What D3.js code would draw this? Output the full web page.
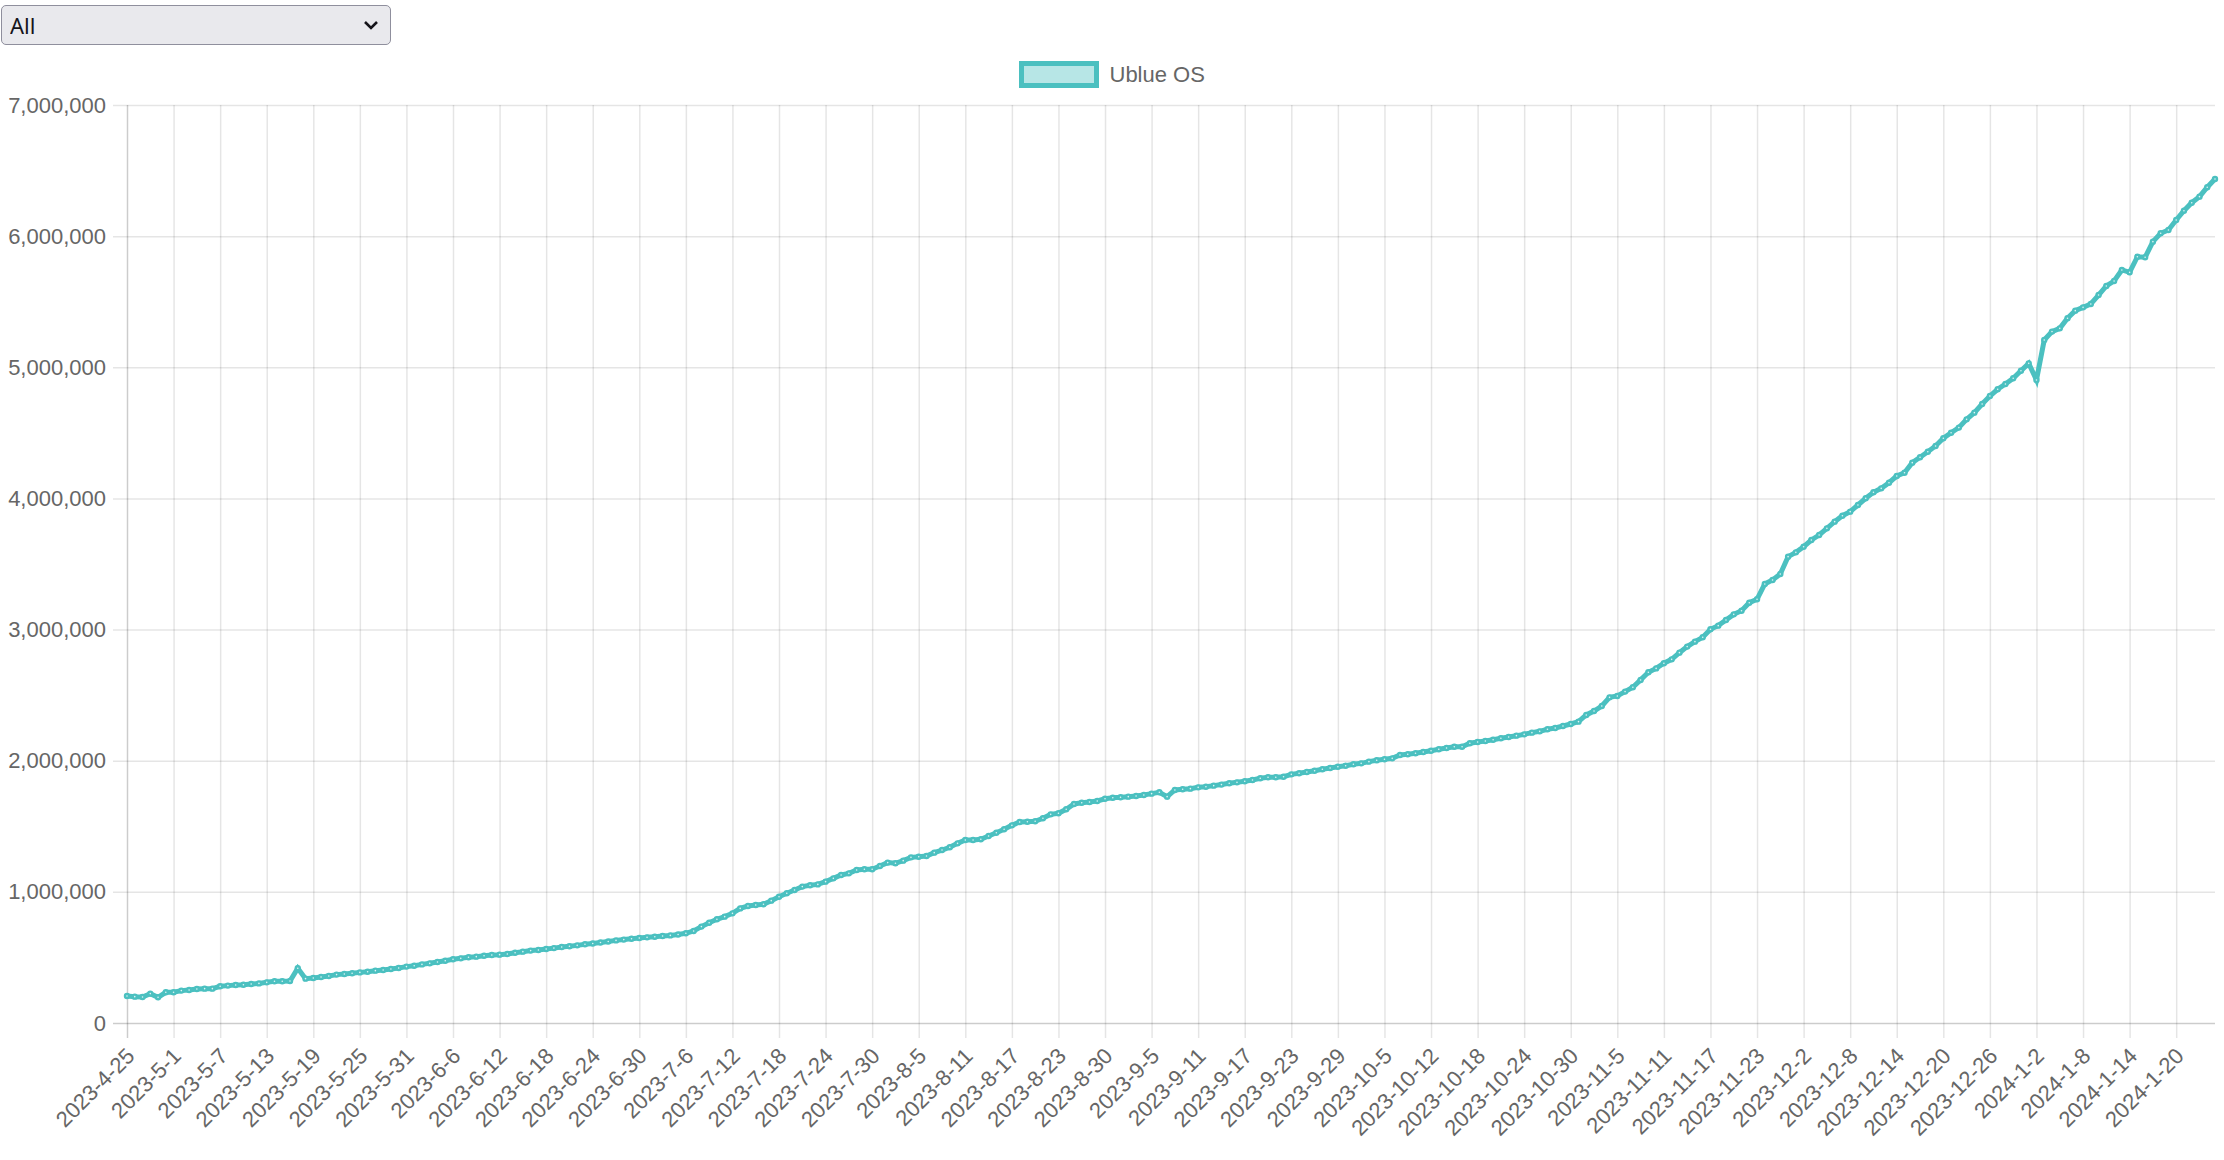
<!DOCTYPE html>
<html>
<head>
<meta charset="utf-8">
<script src="https://cdn.jsdelivr.net/npm/d3@7"></script>
<style>
	body { margin: 0; background: #fff; width: 2224px; height: 1160px; overflow: hidden; }
	#chart { position: absolute; left: 0; top: 0; }
	#range {
		position: absolute; left: 1px; top: 5px; width: 390px; height: 40px;
		font: 22px "Noto Sans", sans-serif; color: #15141a;
		padding: 0 8px; border: 1px solid #8f8f9d; border-radius: 5px;
		-webkit-appearance: none; appearance: none;
		background: #e9e9ed url("data:image/svg+xml,%3Csvg xmlns='http://www.w3.org/2000/svg' width='16' height='10'%3E%3Cpath d='M2 2 L8 8 L14 2' fill='none' stroke='%2315141a' stroke-width='2.6'/%3E%3C/svg%3E") no-repeat right 11px center;
	}
</style>
</head>
<body>
<div id="chart"></div>
<select id="range"><option>All</option></select>
<script>
// categories: one per day, a few days are missing in the source data
var startDay = '2023-04-25',
	endDay = '2024-01-25',
	skippedDays = ['2023-08-27', '2023-10-08', '2023-11-26', '2023-11-27', '2023-11-28', '2023-12-31'];

var seriesName = 'Ublue OS';

var downloads = [
	206000, 201000, 198000, 224000, 196000, 234000, 234000, 247000, 252000, 259000,
	262000, 262000, 280000, 285000, 290000, 292000, 297000, 302000, 310000, 318000,
	318000, 320000, 417000, 338000, 343000, 351000, 358000, 369000, 374000, 379000,
	386000, 391000, 399000, 404000, 412000, 419000, 430000, 437000, 447000, 455000,
	465000, 475000, 486000, 493000, 501000, 506000, 513000, 518000, 521000, 526000,
	536000, 544000, 552000, 557000, 564000, 571000, 579000, 585000, 592000, 600000,
	606000, 614000, 622000, 630000, 636000, 642000, 648000, 653000, 658000, 663000,
	668000, 675000, 684000, 702000, 735000, 765000, 791000, 811000, 836000, 874000,
	892000, 900000, 905000, 933000, 963000, 989000, 1014000, 1040000, 1050000, 1057000,
	1078000, 1103000, 1129000, 1141000, 1167000, 1172000, 1172000, 1197000, 1223000, 1218000,
	1238000, 1263000, 1268000, 1273000, 1299000, 1319000, 1340000, 1370000, 1395000, 1395000,
	1401000, 1426000, 1451000, 1477000, 1507000, 1533000, 1535000, 1538000, 1561000, 1591000,
	1599000, 1630000, 1670000, 1680000, 1685000, 1693000, 1710000, 1718000, 1721000, 1726000,
	1731000, 1739000, 1749000, 1759000, 1726000, 1777000, 1782000, 1787000, 1797000, 1802000,
	1810000, 1818000, 1828000, 1835000, 1843000, 1853000, 1866000, 1874000, 1874000, 1878000,
	1896000, 1904000, 1914000, 1924000, 1935000, 1944000, 1954000, 1962000, 1973000, 1980000,
	1993000, 2003000, 2011000, 2018000, 2044000, 2049000, 2057000, 2067000, 2076000, 2087000,
	2097000, 2107000, 2107000, 2133000, 2143000, 2150000, 2160000, 2171000, 2181000, 2191000,
	2201000, 2214000, 2224000, 2240000, 2250000, 2265000, 2280000, 2298000, 2349000, 2379000,
	2417000, 2483000, 2494000, 2527000, 2560000, 2616000, 2674000, 2704000, 2743000, 2773000,
	2824000, 2870000, 2908000, 2941000, 3002000, 3030000, 3073000, 3116000, 3144000, 3205000,
	3231000, 3348000, 3378000, 3424000, 3556000, 3589000, 3632000, 3683000, 3721000, 3772000,
	3823000, 3868000, 3899000, 3950000, 4001000, 4047000, 4077000, 4120000, 4171000, 4196000,
	4273000, 4314000, 4356000, 4400000, 4459000, 4501000, 4540000, 4603000, 4654000, 4720000,
	4781000, 4832000, 4873000, 4916000, 4974000, 5030000, 4903000, 5208000, 5272000, 5297000,
	5374000, 5432000, 5457000, 5483000, 5551000, 5620000, 5658000, 5742000, 5724000, 5843000,
	5839000, 5958000, 6022000, 6047000, 6123000, 6194000, 6255000, 6301000, 6373000, 6436000
];

var yTicks = [0, 1000000, 2000000, 3000000, 4000000, 5000000, 6000000, 7000000];
var labelEvery = 6;

var width = 2224,
	height = 1160,
	plotLeft = 127,
	plotRight = 2215,
	plotTop = 105,
	plotBottom = 1023,
	teal = '#4bc0c0',
	grid = 'rgba(0,0,0,0.1)',
	font = '"Liberation Sans", Arial, sans-serif';

var parseDay = d3.timeParse('%Y-%m-%d'),
	isoDay = d3.timeFormat('%Y-%m-%d'),
	shortDay = d3.timeFormat('%Y-%-m-%-d');

var labels = d3.timeDay.range(parseDay(startDay), d3.timeDay.offset(parseDay(endDay), 1))
	.filter(function (d) {
		return skippedDays.indexOf(isoDay(d)) < 0;
	})
	.map(shortDay);

var svg = d3.select('#chart').append('svg')
	.attr('width', width)
	.attr('height', height)
	.style('font-family', font);

var x = d3.scalePoint().domain(labels).range([plotLeft, plotRight]);
var y = d3.scaleLinear().domain([0, 7000000]).range([plotBottom, plotTop]);

// y axis with gridlines running across the plot
var yAxis = svg.append('g')
	.attr('transform', 'translate(' + plotRight + ',0)')
	.call(d3.axisLeft(y)
		.tickValues(yTicks)
		.tickSize(plotRight - plotLeft + 14)
		.tickPadding(7)
		.tickFormat(d3.format(',')));
yAxis.select('.domain').remove();
yAxis.selectAll('line').attr('stroke', function (d) {
	return d === 0 ? 'rgba(0,0,0,0.2)' : grid;
}).attr('stroke-width', 1.5);
yAxis.selectAll('text')
	.attr('fill', '#666')
	.style('font-size', '22px')
	.style('font-family', font);

// x axis, every sixth day labelled
var xTickValues = labels.filter(function (d, i) {
	return i % labelEvery === 0;
});
var xAxis = svg.append('g')
	.attr('transform', 'translate(0,' + plotTop + ')')
	.call(d3.axisBottom(x)
		.tickValues(xTickValues)
		.tickSize(plotBottom - plotTop + 15));
xAxis.select('.domain').remove();
xAxis.selectAll('line').attr('stroke', function (d, i) {
	return i === 0 ? 'rgba(0,0,0,0.2)' : grid;
}).attr('stroke-width', 1.5);
xAxis.selectAll('text')
	.attr('fill', '#666')
	.attr('x', null)
	.attr('y', null)
	.attr('dy', '0.35em')
	.attr('text-anchor', 'end')
	.attr('transform', 'translate(3,' + (1052 - plotTop) + ') rotate(-45)')
	.style('font-size', '22px')
	.style('font-family', font);

// the series
var line = d3.line()
	.x(function (d, i) { return x(labels[i]); })
	.y(function (d) { return y(d); });

svg.append('path')
	.datum(downloads)
	.attr('d', line)
	.attr('fill', 'none')
	.attr('stroke', teal)
	.attr('stroke-width', 5)
	.attr('stroke-linejoin', 'miter');

svg.append('g').selectAll('circle')
	.data(downloads)
	.enter().append('circle')
	.attr('cx', function (d, i) { return x(labels[i]); })
	.attr('cy', function (d) { return y(d); })
	.attr('r', 2)
	.attr('fill', '#dff4f4')
	.attr('stroke', teal)
	.attr('stroke-width', 2.4);

// legend
var legend = svg.append('g').attr('transform', 'translate(1021.5,63.5)');
legend.append('rect')
	.attr('width', 75)
	.attr('height', 22)
	.attr('fill', 'rgba(75,192,192,0.4)')
	.attr('stroke', teal)
	.attr('stroke-width', 5);
legend.append('text')
	.attr('x', 88)
	.attr('y', 18)
	.attr('fill', '#666')
	.style('font-size', '22px')
	.text(seriesName);
</script>
</body>
</html>
